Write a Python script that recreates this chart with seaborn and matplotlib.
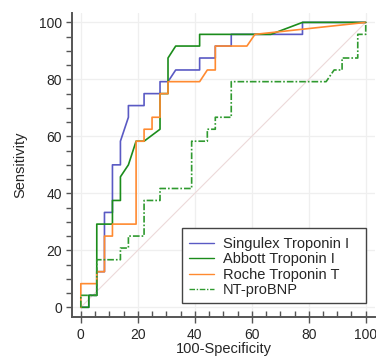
import matplotlib
matplotlib.use("Agg")
import matplotlib.pyplot as plt
import seaborn as sns
import numpy as np
import pandas as pd
from matplotlib.ticker import MultipleLocator
from matplotlib.patches import Rectangle

# ROC curve vertices (100-Specificity, Sensitivity)
singulex_x = [0, 2.8, 2.8, 5.6, 5.6, 8.3, 8.3, 11.1, 11.1, 13.9, 13.9, 16.7, 16.7, 22.2, 22.2,
              27.8, 27.8, 30.6, 33.3, 41.7, 41.7, 47.2, 47.2, 52.8, 52.8, 77.8, 77.8, 100]
singulex_y = [0, 0, 4.2, 4.2, 12.5, 12.5, 33.3, 33.3, 50, 50, 58.3, 66.7, 70.8, 70.8, 75,
              75, 79.2, 79.2, 83.3, 83.3, 87.5, 87.5, 91.7, 91.7, 95.8, 95.8, 100, 100]

abbott_x = [0, 2.8, 2.8, 5.6, 5.6, 11.1, 11.1, 13.9, 13.9, 16.7, 19.4, 22.2, 27.8, 27.8,
            30.6, 30.6, 33.3, 41.7, 41.7, 66.7, 77.8, 100]
abbott_y = [0, 0, 4.2, 4.2, 29.2, 29.2, 37.5, 37.5, 45.8, 50, 58.3, 58.3, 62.5, 75,
            75, 87.5, 91.7, 91.7, 95.8, 95.8, 100, 100]

roche_x = [0, 0, 5.6, 5.6, 8.3, 8.3, 11.1, 11.1, 19.4, 19.4, 22.2, 22.2, 25.0, 25.0, 27.8,
           27.8, 30.6, 30.6, 41.7, 44.4, 47.2, 47.2, 58.3, 61.1, 100]
roche_y = [0, 8.3, 8.3, 12.5, 12.5, 25, 25, 29.2, 29.2, 58.3, 58.3, 62.5, 62.5, 66.7, 66.7,
           75, 75, 79.2, 79.2, 83.3, 83.3, 91.7, 91.7, 95.8, 100]

ntprobnp_x = [0, 0, 5.6, 5.6, 13.9, 13.9, 16.7, 16.7, 22.2, 22.2, 27.8, 27.8, 38.9, 38.9,
              44.4, 44.4, 47.2, 47.2, 52.8, 52.8, 86.1, 88.9, 91.7, 91.7, 97.2, 97.2, 100, 100]
ntprobnp_y = [0, 4.2, 4.2, 16.7, 16.7, 20.8, 20.8, 25, 25, 37.5, 37.5, 41.7, 41.7, 58.3,
              58.3, 62.5, 62.5, 66.7, 66.7, 79.2, 79.2, 83.3, 83.3, 87.5, 87.5, 95.8, 95.8, 100]

labels = ["Singulex Troponin I", "Abbott Troponin I", "Roche Troponin T", "NT-proBNP"]
ticks = [0, 20, 40, 60, 80, 100]

sns.set_style("white")
plt.rcParams['font.family'] = ['Liberation Sans', 'DejaVu Sans']

fig = plt.figure(figsize=(3.76, 3.57), dpi=100)
ax = fig.add_axes([0.1907, 0.1129, 0.807, 0.8507])

for t in ticks:
    ax.axvline(t, color='#efefef', lw=0.9, zorder=0)
    ax.axhline(t, color='#efefef', lw=0.9, zorder=0)
ax.plot([0, 100], [0, 100], color='#ecd9d9', lw=0.8, zorder=1)

curves = [
    (singulex_x, singulex_y, '#5a5ac4', '-'),
    (abbott_x, abbott_y, '#1b8c1b', '-'),
    (roche_x, roche_y, '#ff8a30', '-'),
    (ntprobnp_x, ntprobnp_y, '#2f9a2f', (0, (4, 1.2, 1, 1.2))),
]
for (xs, ys, col, ls), lab in zip(curves, labels):
    df = pd.DataFrame({"x": xs, "y": ys})
    sns.lineplot(data=df, x="x", y="y", sort=False, estimator=None, color=col,
                 linestyle=ls, lw=1.2, label=lab, ax=ax, zorder=3)

ax.set_xlim(-3.2, 103.3)
ax.set_ylim(-3.3, 103.3)
ax.set_xticks(ticks)
ax.set_yticks(ticks)
ax.xaxis.set_minor_locator(MultipleLocator(5))
ax.yaxis.set_minor_locator(MultipleLocator(5))
for s in ['top', 'right']:
    ax.spines[s].set_visible(False)
for s in ['left', 'bottom']:
    ax.spines[s].set_color('#555555')
    ax.spines[s].set_linewidth(1.4)
ax.tick_params(axis='y', which='both', direction='out', length=4, width=1, color='#555555',
               left=True, labelsize=10, pad=3)
ax.tick_params(axis='x', which='minor', direction='in', length=4, width=1, color='#555555', bottom=True)
ax.tick_params(axis='x', which='major', direction='inout', length=8, width=1, color='#555555',
               bottom=True, labelsize=10, pad=4)
ax.set_xlabel("100-Specificity", fontsize=10.5, labelpad=0)
ax.set_ylabel("Sensitivity", fontsize=10.5, labelpad=8)

# legend box drawn separately so it can be wider than its text
box_x0, box_y0, box_x1, box_y1 = 0.3635, 0.0451, 0.970, 0.292
ax.add_patch(Rectangle((box_x0, box_y0), box_x1 - box_x0, box_y1 - box_y0, transform=ax.transAxes,
                       facecolor='white', edgecolor='#444444', lw=1.0, zorder=4))
leg = ax.legend(loc='upper left', bbox_to_anchor=(box_x0, box_y1 - 0.005), borderaxespad=0,
                fontsize=10.5, frameon=False, handlelength=1.7,
                handletextpad=0.6, labelspacing=0.1, borderpad=0.5)
leg.set_zorder(5)
for line in leg.get_lines():
    line.set_linewidth(1.0)

fig.savefig("out.png", dpi=100)
